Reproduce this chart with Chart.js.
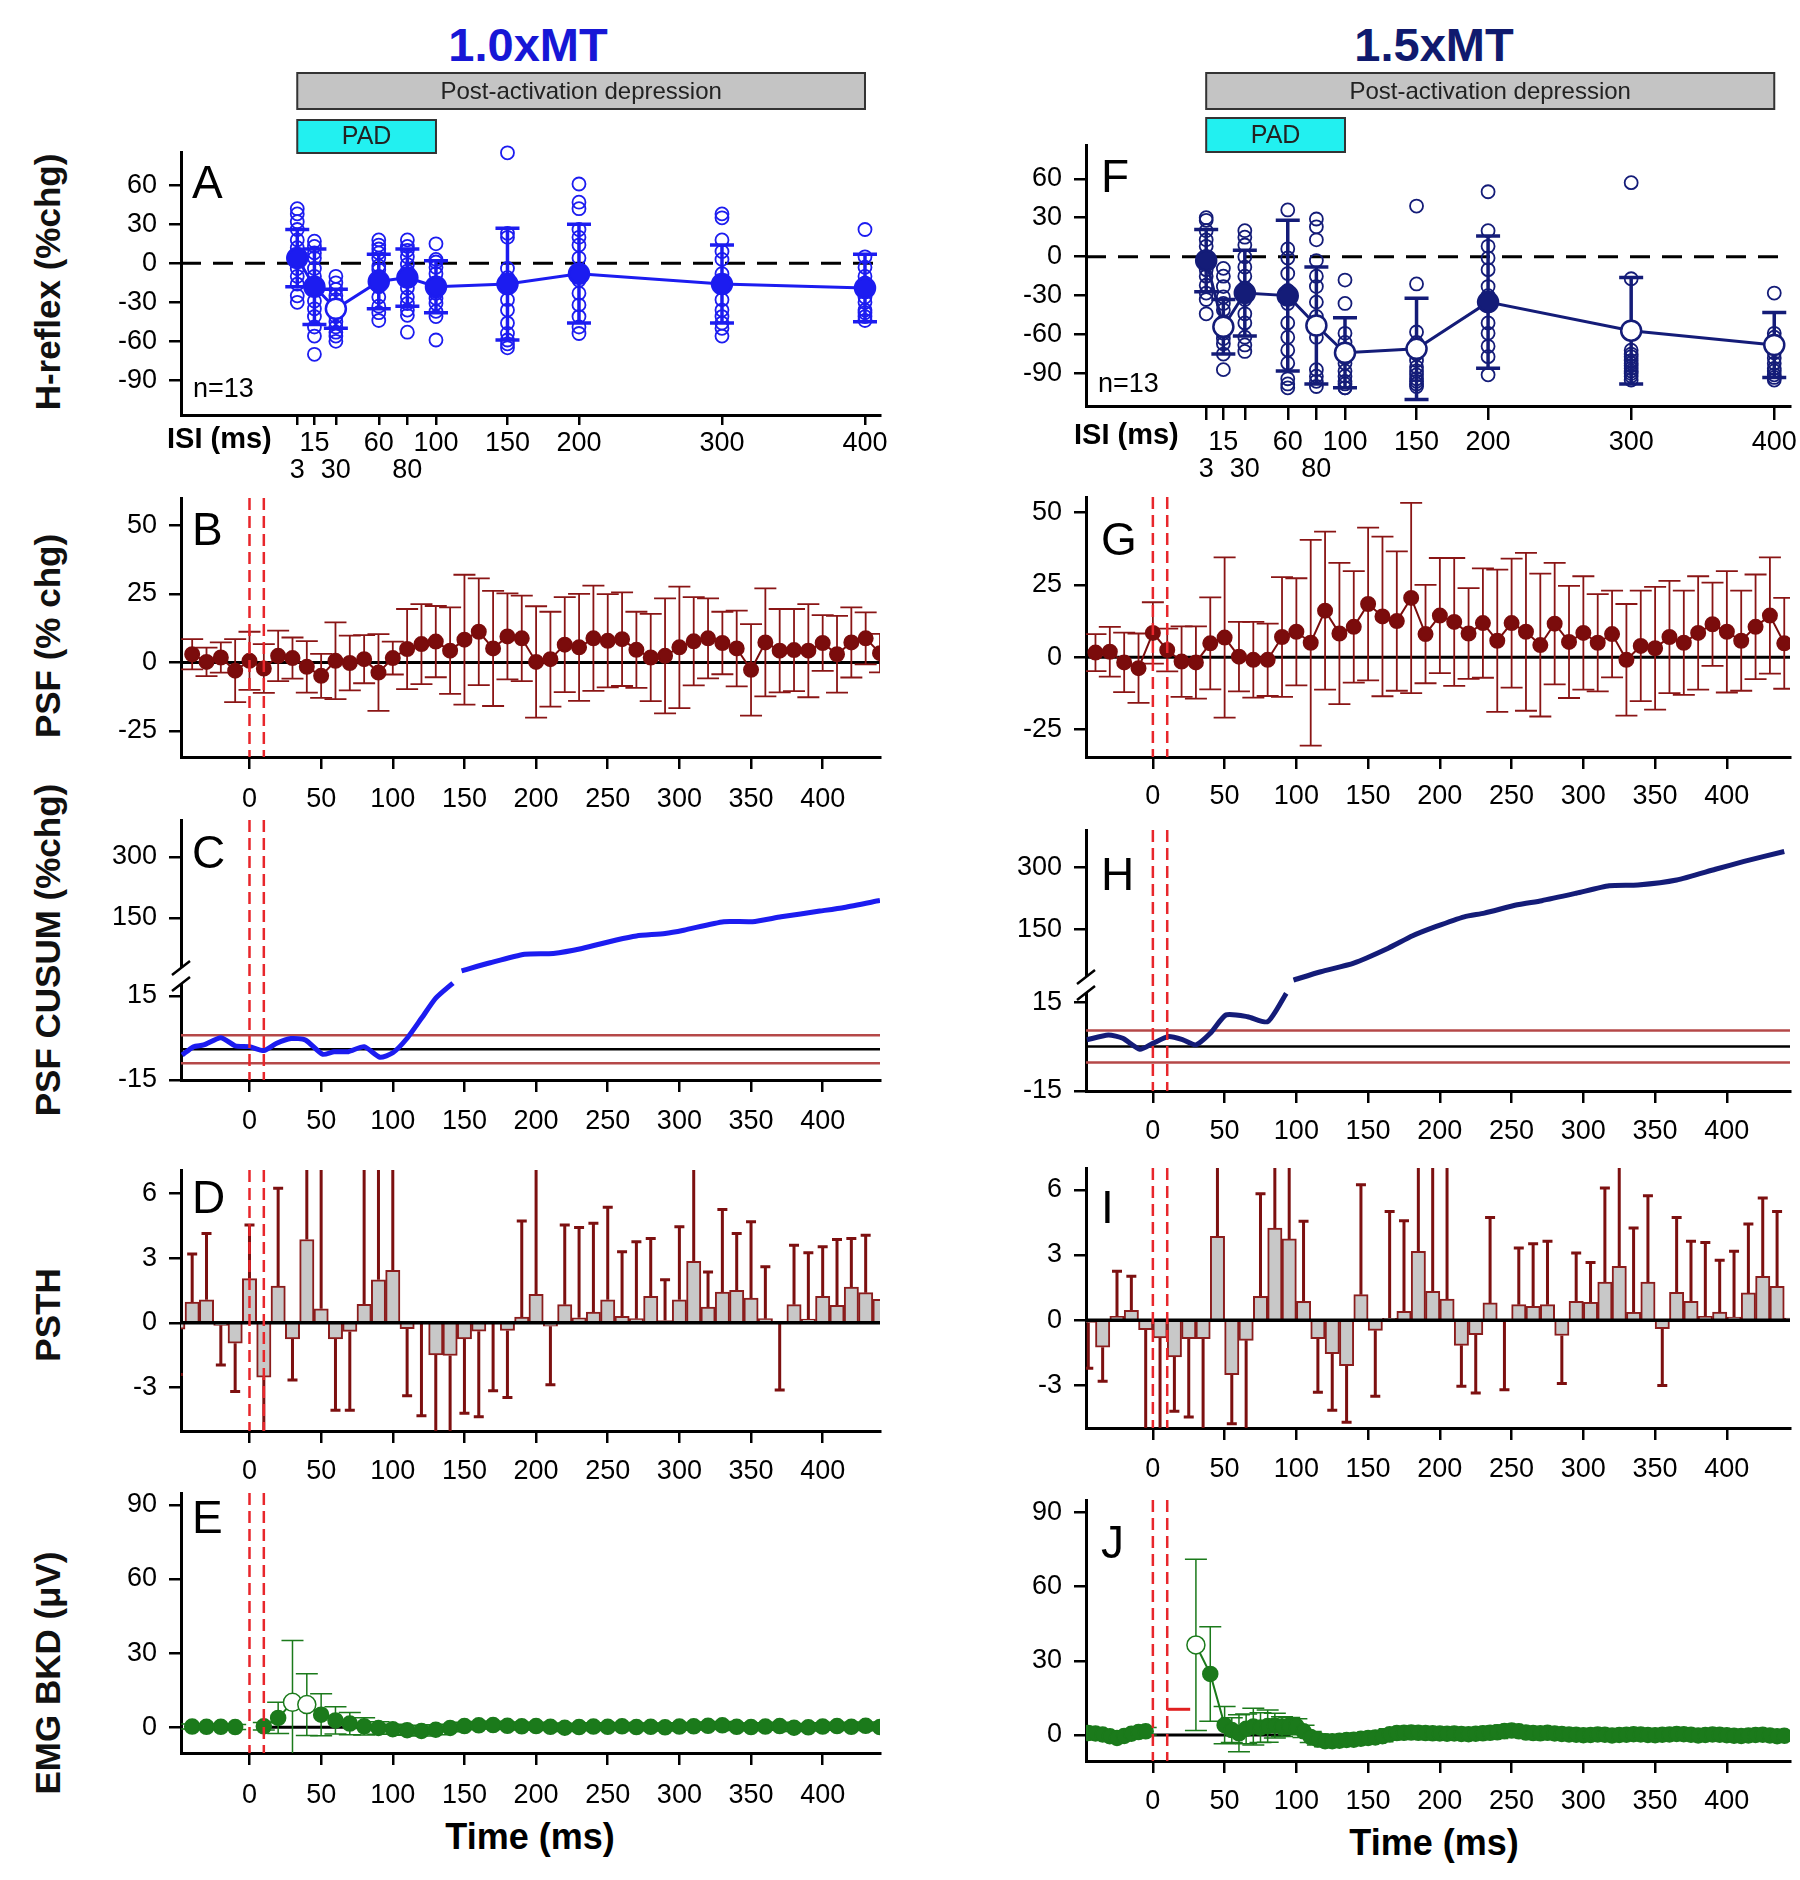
<!DOCTYPE html>
<html>
<head>
<meta charset="utf-8">
<title>H-reflex, PSF, CUSUM, PSTH and EMG</title>
<script src="https://cdn.jsdelivr.net/npm/chart.js@4.4.1/dist/chart.umd.min.js"></script>
<style>
  body { margin: 0; width: 1800px; height: 1880px; background: #fff; position: relative; overflow: hidden;
         font-family: "Liberation Sans", Arial, sans-serif; }
  canvas { position: absolute; }
  .label { position: absolute; white-space: nowrap; transform: translate(-50%, -50%); font-weight: bold; }
  .ytitle { position: absolute; white-space: nowrap; transform: translate(-50%, -50%) rotate(-90deg);
            font-weight: bold; font-size: 35px; color: #111; }
</style>
</head>
<body>
<div class="label" style="left:528px;top:44px;font-size:47px;color:#1717d6">1.0xMT</div>
<div class="label" style="left:1434px;top:44px;font-size:47px;color:#101a6e">1.5xMT</div>
<div class="ytitle" style="left:48px;top:282px">H-reflex (%chg)</div>
<div class="ytitle" style="left:48px;top:636px">PSF (% chg)</div>
<div class="ytitle" style="left:48px;top:950px">PSF CUSUM (%chg)</div>
<div class="ytitle" style="left:48px;top:1315px">PSTH</div>
<div class="ytitle" style="left:48px;top:1673px">EMG BKD (μV)</div>
<div class="label" style="left:530px;top:1837px;font-size:36px">Time (ms)</div>
<div class="label" style="left:1434px;top:1843px;font-size:36px">Time (ms)</div>

<script>
// ---------- H-reflex (A = 1.0xMT, F = 1.5xMT) ----------
const isiMs = [3, 15, 30, 60, 80, 100, 150, 200, 300, 400];
const isiLowerRow = [3, 30, 80];          // these tick labels sit on the second line
const padRange = [3, 100];                 // PAD bar
const depressionRange = [3, 400];          // post-activation depression bar

const hMeanA = [4, -18, -35, -14, -11, -18, -16, -8, -16, -19];
const hErrA = [22, 29, 15, 21, 22, 20, 43, 38, 30, 26];
const hOpenA = [false, false, true, false, false, false, false, false, false, false];
const hIndivA = [
  [42, 38, 32, 26, 18, 12, 6, 2, -4, -10, -16, -25, -30],
  [17, 13, 8, 4, -4, -10, -20, -29, -35, -41, -49, -56, -70],
  [-10, -15, -20, -25, -28, -33, -38, -41, -45, -49, -53, -56, -60],
  [18, 14, 11, 8, 4, -2, -5, -10, -18, -26, -33, -38, -44],
  [18, 13, 10, 5, -1, -6, -10, -19, -26, -31, -36, -40, -53],
  [15, 3, 1, -3, -8, -15, -19, -23, -27, -31, -37, -41, -59],
  [85, 23, 20, -4, -11, -19, -28, -36, -46, -54, -59, -62, -65],
  [61, 47, 42, 26, 20, 14, 4, -13, -23, -32, -41, -49, -54],
  [38, 35, 18, 9, 3, -8, -18, -28, -36, -41, -46, -50, -56],
  [26, 5, -3, -10, -15, -18, -22, -26, -30, -36, -38, -41, -44]
];

const hMeanF = [-3, -54, -28, -30, -53, -74, -71, -35, -57, -68];
const hErrF = [24, 21, 33, 58, 45, 27, 39, 51, 41, 25];
const hOpenF = [false, true, false, false, true, true, true, false, true, true];
const hIndivF = [
  [30, 28, 20, 13, 8, 0, -5, -10, -15, -22, -28, -33, -44],
  [-9, -15, -23, -31, -36, -41, -50, -54, -59, -63, -67, -75, -87],
  [20, 15, 9, 0, -8, -15, -24, -33, -44, -51, -62, -68, -73],
  [36, 6, -1, -13, -26, -36, -51, -62, -72, -82, -94, -98, -101],
  [29, 23, 13, -3, -15, -23, -35, -46, -62, -87, -92, -96, -100],
  [-18, -36, -59, -66, -72, -78, -82, -88, -92, -96, -98, -101, -101],
  [39, -21, -58, -66, -75, -80, -85, -88, -91, -94, -96, -98, -100],
  [50, 20, 8, -1, -10, -23, -30, -38, -51, -59, -69, -77, -91],
  [57, -17, -72, -75, -77, -80, -82, -84, -86, -88, -90, -92, -95],
  [-28, -59, -62, -65, -70, -74, -78, -82, -86, -88, -91, -93, -95]
];

// ---------- time axes ----------
const timeTicks = [0, 50, 100, 150, 200, 250, 300, 350, 400];
const stimMarks = [0, 10];   // red dashed lines

// ---------- PSF (B, G) ----------
const psfTime = [-40, -30, -20, -10, 0, 10, 20, 30, 40, 50, 60, 70, 80, 90, 100, 110, 120, 130, 140, 150,
  160, 170, 180, 190, 200, 210, 220, 230, 240, 250, 260, 270, 280, 290, 300, 310, 320, 330, 340, 350,
  360, 370, 380, 390, 400, 410, 420, 430, 440];
const psfMeanB = [3.0, 0.2, 1.8, -3.0, 0.6, -2.2, 2.4, 1.6, -1.6, -4.9,
  0.6, -0.2, 1.2, -3.7, 1.6, 4.9, 6.7, 7.6, 4.3, 8.3,
  11.2, 5.1, 9.5, 8.8, 0.2, 1.2, 6.5, 5.5, 8.8, 7.9,
  8.5, 4.6, 1.8, 2.4, 5.5, 7.7, 8.8, 7.1, 5.1, -2.7,
  7.3, 4.3, 4.5, 4.3, 7.1, 3.0, 7.3, 8.8, 3.4];
const psfErrB = [5.5, 5.2, 5.5, 11.5, 10.6, 8.9, 9.2, 7.5, 9.4, 8,
  14, 10, 8.8, 14, 6, 14.6, 14.6, 13, 15.8, 23.7,
  19.5, 21, 15.7, 15.6, 20.3, 17.3, 17.3, 19.5, 19.2, 17,
  17.1, 13.9, 15.9, 21, 22.2, 16.1, 14.6, 11.4, 13.8, 16.7,
  19.7, 15.2, 15, 17, 10.2, 14, 12.8, 9.5, 7];
const psfMeanG = [1.6, 1.9, -1.8, -3.8, 8.4, 2.5, -1.5, -1.8, 4.8, 6.8,
  0.2, -0.9, -0.9, 7.0, 8.8, 5.0, 16.1, 8.2, 10.5, 18.4,
  14.1, 12.5, 20.5, 8.0, 14.4, 12.2, 8.2, 11.8, 5.7, 11.8,
  8.8, 4.2, 11.6, 5.3, 8.4, 5.0, 8.0, -0.9, 3.9, 3.1,
  7.0, 5.0, 8.4, 11.4, 8.8, 5.7, 10.5, 14.4, 4.8];
const psfErrG = [6.4, 8.6, 10.3, 12, 10.6, 7.4, 12.2, 12.5, 15.9, 27.7,
  12, 13.1, 12.5, 20.7, 18.5, 35.6, 27.3, 24.4, 19.3, 26.4,
  27.6, 24.1, 32.9, 17, 19.9, 22.1, 15.7, 18.9, 24.6, 22.3,
  27.3, 24.7, 21, 19.4, 19.6, 16.8, 15, 19.3, 19.1, 21.2,
  19.4, 18, 19.6, 14.4, 21, 17.3, 18.1, 20.1, 15.7];

// ---------- PSF CUSUM (C, H), lower and upper (broken) parts ----------
const cusumLoTimeC = [-47, -39, -32, -20, -10, 0, 10, 19, 29, 39, 51, 59, 69, 80, 91, 100, 110, 120, 130, 142];
const cusumLoC = [-6.1, -3.1, -2.5, 0.1, -2.8, -3.1, -4.5, -1.9, -0.2, -0.7, -5.8, -4.9, -4.9, -3.1, -6.9, -5.3, -0.1, 7.0, 14.2, 19.6];
const cusumHiTimeC = [148, 168, 192, 212, 232, 256, 270, 290, 303, 331, 351, 371, 398, 415, 440];
const cusumHiC = [20, 40, 61, 63, 75, 96, 106, 112, 120, 141, 141, 153, 167, 176, 193];
const cusumLimitsC = [1, -9];
const cusumBaseC = -4;

const cusumLoTimeH = [-46, -31, -21, -9, 0, 11, 21, 30, 40, 51, 66, 80, 93];
const cusumLoH = [2.3, 3.9, 2.8, -0.9, 1.1, 3.4, 2.3, 0.6, 4.5, 10.7, 10.1, 8.4, 18];
const cusumHiTimeH = [98, 117, 140, 164, 181, 197, 217, 231, 254, 271, 295, 318, 338, 365, 392, 412, 440];
const cusumHiH = [27, 47, 68, 104, 134, 156, 180, 189, 209, 219, 237, 255, 257, 269, 295, 314, 338];
const cusumLimitsH = [5.4, -5.4];
const cusumBaseH = 0;

// ---------- PSTH (D, I): bin centre, bar height, end of error bar ----------
const psthBinD = [-50, -40, -30, -20, -10, 0, 10, 20, 30, 40, 50, 60, 70, 80, 90, 100, 110, 120, 130, 140,
  150, 160, 170, 180, 190, 200, 210, 220, 230, 240, 250, 260, 270, 280, 290, 300, 310, 320, 330, 340,
  350, 360, 370, 380, 390, 400, 410, 420, 430, 440];
const psthMeanD = [-0.3, 0.96, 1.07, -0.12, -0.95, 2.05, -2.53, 1.7, -0.75, 3.87,
  0.65, -0.75, -0.4, 0.86, 2.0, 2.44, -0.28, -0.05, -1.49, -1.52,
  -0.75, -0.39, -0.05, -0.36, 0.26, 1.32, -0.16, 0.84, 0.23, 0.5,
  1.07, 0.3, 0.19, 1.23, 0.1, 1.07, 2.86, 0.73, 1.43, 1.51,
  1.15, 0.19, 0.0, 0.84, 0.17, 1.23, 0.81, 1.66, 1.4, 1.09];
const psthErrEndD = [-2.4, 3.2, 4.15, -1.96, -3.19, 4.54, -5.5, 6.25, -2.66, 8,
  8, -4.06, -4.06, 8, 8, 8, -3.39, -4.32, -5.5, -5.5,
  -4.21, -4.37, -3.16, -3.47, 4.73, 8, -2.88, 4.54, 4.43, 4.62,
  5.37, 3.3, 3.76, 3.92, 2.0, 4.46, 8, 2.36, 5.27, 4.15,
  4.7, 2.6, -3.13, 3.6, 3.25, 3.53, 3.87, 3.92, 4.07, null];

const psthBinI = [-45, -35, -25, -15, -5, 5, 15, 25, 35, 45, 55, 65, 75, 85, 95, 105, 115, 125, 135, 145,
  155, 165, 175, 185, 195, 205, 215, 225, 235, 245, 255, 265, 275, 285, 295, 305, 315, 325, 335, 345,
  355, 365, 375, 385, 395, 405, 415, 425, 435, 445];
const psthMeanI = [-0.1, -1.24, 0.18, 0.46, -0.43, -0.81, -1.68, -0.84, -0.84, 3.86,
  -2.5, -0.92, 1.1, 4.24, 3.74, 0.87, -0.84, -1.53, -2.08, 1.18,
  -0.46, 0.09, 0.41, 3.17, 1.33, 0.98, -1.15, -0.66, 0.8, -0.05,
  0.72, 0.64, 0.72, -0.7, 0.87, 0.83, 1.76, 2.48, 0.37, 1.76,
  -0.38, 1.29, 0.87, 0.18, 0.38, 0.15, 1.26, 2.02, 1.56, 0.1];
const psthErrEndI = [-2.2, -2.8, 2.25, 2.02, -5.5, -5.5, -4.18, -4.44, -5.5, 8,
  -4.75, -5.5, 5.82, 8, 8, 4.55, -3.31, -4.13, -4.69, 6.23,
  -3.49, 5.0, 4.58, 8, 8, 8, -3.03, -3.34, 4.73, -3.19,
  3.32, 3.52, 3.63, -2.91, 3.09, 2.66, 6.08, 8, 4.24, 5.73,
  -3.0, 4.73, 3.63, 3.58, 2.76, 3.17, 4.43, 5.62, 5.0, null];

// ---------- background EMG (E, J) ----------
const emgTimeE = [-40, -30, -20, -10, 10, 20, 30, 40, 50, 60, 70, 80, 90, 100, 110, 120, 130, 140, 150, 160,
  170, 180, 190, 200, 210, 220, 230, 240, 250, 260, 270, 280, 290, 300, 310, 320, 330, 340, 350, 360,
  370, 380, 390, 400, 410, 420, 430, 440];
const emgMeanE = [0.3, 0.2, 0.2, 0.1, 0.4, 3.8, 10.1, 9.2, 5.1, 2.8, 1.5, 0.4, -0.3, -0.8, -1.2, -1.5, -1.0, -0.3, 0.5, 0.8,
  0.9, 0.6, 0.4, 0.5, 0.2, -0.2, 0.1, 0.3, 0.2, 0.4, 0.1, 0.2, 0.0, 0.3, 0.4, 0.6, 0.8, 0.2, 0.1, 0.3,
  0.5, -0.2, 0.0, 0.3, 0.5, 0.2, 0.6, 0.1];
const emgErrE = [1, 1, 1, 1, 1.5, 6.3, 25, 12.5, 8.5, 5.5, 4.5, 3.5, 2.5, 2, 2, 2, 2, 1.5, 1.5, 1.5,
  1.5, 1.5, 1.5, 1.5, 1.5, 1.5, 1.5, 1.5, 1.5, 1.5, 1.5, 1.5, 1.5, 1.5, 1.5, 1.5, 1.5, 1.5, 1.5, 1.5,
  1.5, 1.5, 1.5, 1.5, 1.5, 1.5, 1.5, 1.5];
const emgOpenE = [30, 40];

const emgTimeJ = [-45, -40, -35, -30, -25, -20, -15, -10, -5, 30, 40,
  50, 55, 60, 65, 70, 75, 80, 85, 90, 95, 100, 105,
  110, 115, 120, 125, 130, 135, 140, 145, 150, 155, 160, 165,
  170, 175, 180, 185, 190, 195, 200, 205, 210, 215, 220, 225,
  230, 235, 240, 245, 250, 255, 260, 265, 270, 275, 280, 285,
  290, 295, 300, 305, 310, 315, 320, 325, 330, 335, 340, 345,
  350, 355, 360, 365, 370, 375, 380, 385, 390, 395, 400, 405,
  410, 415, 420, 425, 430, 435, 440];
const emgMeanJ = [0.8, 0.6, 0.2, -0.5, -1.2, -0.4, 0.5, 1.2, 1.5, 36.4, 24.7,
  4.0, 2.0, 0.7, 2.5, 3.4, 3.0, 3.6, 3.8, 3.4, 3.6, 3.6, 1.5,
  -0.8, -1.8, -2.5, -2.5, -2.3, -2.0, -1.9, -1.5, -1.2, -1.0, -0.5, 0.3,
  0.8, 0.9, 1.0, 0.9, 0.8, 0.7, 0.6, 0.5, 0.6, 0.4, 0.3, 0.5,
  0.7, 0.9, 1.1, 1.6, 1.8, 1.5, 1.0, 0.8, 0.7, 0.9, 0.6, 0.4,
  0.2, 0.1, -0.1, 0.0, 0.2, 0.1, -0.2, 0.0, 0.1, 0.3, 0.2, 0.0,
  -0.1, 0.1, 0.2, 0.4, 0.3, 0.1, -0.2, 0.0, 0.2, 0.1, -0.1, -0.3,
  -0.4, -0.2, 0.0, 0.1, -0.2, -0.5, -0.3];
const emgErrJ = [1.5, 1.5, 1.5, 1.5, 1.5, 1.5, 1.5, 1.5, 1.5, 34.6, 19.1,
  7.5, 5, 7.5, 6, 7.4, 6, 6.5, 5, 4, 3.5, 3, 2.5,
  2.2, 2.2, 2.2, 2.2, 2.2, 2.2, 2.2, 2.2, 2.2, 2.2, 2.2, 2.2,
  1.5, 1.5, 1.5, 1.5, 1.5, 1.5, 1.5, 1.5, 1.5, 1.5, 1.5, 1.5,
  2, 2.5, 2.5, 2.5, 2.5, 2, 1.5, 1.5, 1.5, 1.5, 1.5, 1.5,
  1.5, 1.5, 1.5, 1.5, 1.5, 1.5, 1.5, 1.5, 1.5, 1.5, 1.5, 1.5,
  1.5, 1.5, 1.5, 1.5, 1.5, 1.5, 1.5, 1.5, 1.5, 1.5, 1.5, 1.5,
  1.5, 1.5, 1.5, 1.5, 1.5, 1.5, 1.5];
const emgOpenJ = [30];
const emgThresholdJ = { y: 10.4, from: 10, to: 26 };   // small red marker in J

// ---------- colours ----------
const BLUE = '#1c1cf0';
const NAVY = '#141c78';
const DARKRED = '#7b0c0c';
const ERRRED = '#8a1515';
const GREEN = '#1b7a1b';
const DASHRED = '#e8262b';
const FONT = '"Liberation Sans", Arial, sans-serif';

Chart.defaults.font.family = FONT;

// ---------- small plugins ----------
const errorBars = {
  id: 'errorBars',
  beforeDatasetDraw(chart, args) {
    const ds = chart.data.datasets[args.index];
    const eb = ds.errorBars;
    if (!eb) return;
    const xs = chart.scales.x, ys = chart.scales[ds.yAxisID || 'y'];
    const ctx = chart.ctx, a = chart.chartArea;
    ctx.save();
    ctx.beginPath();
    ctx.rect(a.left, a.top, a.right - a.left, a.bottom - a.top);
    ctx.clip();
    ctx.strokeStyle = eb.color;
    ctx.lineWidth = eb.width;
    eb.x.forEach((xv, i) => {
      if (eb.from[i] == null || eb.to[i] == null) return;
      const x = xs.getPixelForValue(xv);
      const y1 = ys.getPixelForValue(eb.from[i]);
      const y2 = ys.getPixelForValue(eb.to[i]);
      ctx.beginPath();
      ctx.moveTo(x, y1);
      ctx.lineTo(x, y2);
      if (eb.capFrom) { ctx.moveTo(x - eb.cap, y1); ctx.lineTo(x + eb.cap, y1); }
      if (eb.capTo) { ctx.moveTo(x - eb.cap, y2); ctx.lineTo(x + eb.cap, y2); }
      ctx.stroke();
    });
    ctx.restore();
  }
};

function drawGuides(chart, list) {
  if (!list) return;
  const ctx = chart.ctx, a = chart.chartArea, xs = chart.scales.x;
  list.forEach(g => {
    ctx.save();
    ctx.strokeStyle = g.color;
    ctx.lineWidth = g.width;
    ctx.setLineDash(g.dash || []);
    ctx.beginPath();
    if (g.x !== undefined) {
      const px = xs.getPixelForValue(g.x);
      ctx.moveTo(px, a.top);
      ctx.lineTo(px, a.bottom);
    } else {
      const py = chart.scales[g.axis || 'y'].getPixelForValue(g.y);
      const x0 = g.from !== undefined ? xs.getPixelForValue(g.from) : a.left;
      const x1 = g.to !== undefined ? xs.getPixelForValue(g.to) : a.right;
      ctx.moveTo(x0, py);
      ctx.lineTo(x1, py);
    }
    ctx.stroke();
    ctx.restore();
  });
}

const guides = {
  id: 'guides',
  beforeDatasetsDraw(chart, args, opts) { drawGuides(chart, opts.under); },
  afterDatasetsDraw(chart, args, opts) { drawGuides(chart, opts.over); }
};

const notes = {
  id: 'notes',
  afterDraw(chart, args, opts) {
    if (!opts.items) return;
    const ctx = chart.ctx, a = chart.chartArea;
    opts.items.forEach(t => {
      ctx.save();
      ctx.font = t.font;
      ctx.fillStyle = t.color || '#000';
      ctx.textAlign = 'left';
      ctx.textBaseline = 'alphabetic';
      ctx.fillText(t.text, a.left + t.dx, a.top + t.dy);
      ctx.restore();
    });
  }
};

// grey / cyan period bars above the H-reflex panels, placed on the ISI axis
const topBars = {
  id: 'topBars',
  afterDraw(chart, args, opts) {
    if (!opts.items) return;
    const ctx = chart.ctx, xs = chart.scales.x, top = chart.chartArea.top;
    opts.items.forEach(b => {
      const x0 = xs.getPixelForValue(b.range[0]), x1 = xs.getPixelForValue(b.range[1]);
      const y0 = top + b.dy0, y1 = top + b.dy1;
      ctx.save();
      ctx.fillStyle = b.fill;
      ctx.fillRect(x0, y0, x1 - x0, y1 - y0);
      ctx.strokeStyle = '#333';
      ctx.lineWidth = 2;
      ctx.strokeRect(x0, y0, x1 - x0, y1 - y0);
      ctx.fillStyle = '#222';
      ctx.font = b.font;
      ctx.textAlign = 'center';
      ctx.textBaseline = 'middle';
      ctx.fillText(b.text, (x0 + x1) / 2, (y0 + y1) / 2 + 1);
      ctx.restore();
    });
  }
};

// "//" break on the CUSUM y axis, between the two stacked scales
const axisBreak = {
  id: 'axisBreak',
  afterDraw(chart, args, opts) {
    if (!opts.scale) return;
    const ctx = chart.ctx, x = chart.chartArea.left, y = chart.scales[opts.scale].top;
    ctx.save();
    ctx.fillStyle = '#fff';
    ctx.fillRect(x - 4, y - 8, 8, 16);
    ctx.strokeStyle = '#000';
    ctx.lineWidth = 2.5;
    ctx.beginPath();
    [y - 8, y + 8].forEach(yy => { ctx.moveTo(x - 9, yy + 7); ctx.lineTo(x + 9, yy - 7); });
    ctx.stroke();
    ctx.restore();
  }
};

Chart.register(errorBars, guides, notes, topBars, axisBreak);

// ---------- layout helpers ----------
const YW = 100;     // width of every y-axis box
const PAD_R = 30, PAD_B = 10;

function addCanvas(g) {
  const c = document.createElement('canvas');
  const left = g.left - YW, top = g.top - g.padTop;
  c.width = g.right + PAD_R - left;
  c.height = g.bottom + g.xh + PAD_B - top;
  c.style.left = left + 'px';
  c.style.top = top + 'px';
  document.body.appendChild(c);
  return c;
}

function xAxis(g, min, max, ticks, tickExtra) {
  return {
    type: 'linear', min, max, offset: false,
    afterBuildTicks: ax => { ax.ticks = ticks.map(v => ({ value: v })); },
    afterFit: ax => { ax.height = g.xh; },
    border: { display: true, color: '#000', width: 3 },
    grid: { drawOnChartArea: false, tickLength: g.xTick || 12, color: '#000', lineWidth: 2.5, offset: false },
    ticks: Object.assign({ color: '#000', font: { size: 27 }, padding: g.xPad, maxRotation: 0, autoSkip: false }, tickExtra)
  };
}

function yAxis(min, max, ticks, extra) {
  return Object.assign({
    type: 'linear', position: 'left', min, max,
    afterBuildTicks: ax => { ax.ticks = ticks.map(v => ({ value: v })); },
    afterFit: ax => { ax.width = YW; },
    border: { display: true, color: '#000', width: 3 },
    grid: { drawOnChartArea: false, tickLength: 12, color: '#000', lineWidth: 2.5 },
    ticks: { color: '#000', font: { size: 27 }, padding: 12 }
  }, extra);
}

function build(g, type, datasets, scales, plugins) {
  return new Chart(addCanvas(g), {
    type,
    data: { datasets },
    options: {
      responsive: false, animation: false, devicePixelRatio: 1,
      layout: { padding: { left: 0, top: g.padTop, right: PAD_R, bottom: PAD_B } },
      scales,
      plugins: Object.assign({ legend: { display: false }, tooltip: { enabled: false } }, plugins)
    }
  });
}

const letter = (ch, dx, dy) => ({ text: ch, dx, dy, font: '46px ' + FONT });
const pts = (xs, ys) => xs.map((x, i) => ({ x, y: ys[i] }));
const symErr = (x, mean, err, style) => Object.assign({
  x, from: mean.map((m, i) => m - err[i]), to: mean.map((m, i) => m + err[i]), capFrom: true, capTo: true
}, style);
const stimLines = stimMarks.map(x => ({ x, color: DASHRED, width: 2.5, dash: [12, 6] }));
// no connecting line across the stimulus gap in the EMG traces
const skipGaps = { borderColor: c => (c.p1.parsed.x - c.p0.parsed.x > 15 ? 'rgba(0,0,0,0)' : undefined) };

// panel chart areas, in page pixels
const gA = { left: 181, right: 880, top: 152, bottom: 415, padTop: 100, xh: 80, xTick: 10, xPad: 5 };
const gB = { left: 181, right: 880, top: 498, bottom: 757, padTop: 40, xh: 70, xPad: 14 };
const gC = { left: 181, right: 880, top: 820, bottom: 1080, padTop: 40, xh: 70, xPad: 13 };
const gD = { left: 181, right: 880, top: 1170, bottom: 1431, padTop: 40, xh: 70, xPad: 12 };
const gE = { left: 181, right: 880, top: 1493, bottom: 1753, padTop: 40, xh: 70, xPad: 14 };
const gF = { left: 1086, right: 1790, top: 145, bottom: 406, padTop: 100, xh: 85, xTick: 14, xPad: 9 };
const gG = { left: 1086, right: 1790, top: 497, bottom: 757, padTop: 40, xh: 70, xPad: 11 };
const gH = { left: 1086, right: 1790, top: 830, bottom: 1091, padTop: 40, xh: 70, xPad: 12 };
const gI = { left: 1086, right: 1790, top: 1168, bottom: 1428, padTop: 40, xh: 70, xPad: 13 };
const gJ = { left: 1086, right: 1790, top: 1500, bottom: 1761, padTop: 40, xh: 70, xPad: 12 };

// ---------- H-reflex panels ----------
function hReflexPanel(g, name, color, mean, err, open, indiv, xmin, xmax, dxL, bars) {
  build(g, 'scatter', [
    {
      type: 'line', data: pts(isiMs, mean), borderColor: color, borderWidth: 3,
      pointRadius: 10, pointBorderWidth: 2.5, pointBorderColor: color,
      pointBackgroundColor: open.map(o => o ? '#fff' : color),
      errorBars: symErr(isiMs, mean, err, { cap: 12, width: 3.5, color })
    },
    {
      data: indiv.flatMap((vals, i) => vals.map(y => ({ x: isiMs[i], y }))), clip: 12,
      pointRadius: 6.5, pointBorderWidth: 1.8, borderColor: color, backgroundColor: 'rgba(0,0,0,0)'
    }
  ], {
    x: xAxis(g, xmin, xmax, isiMs, {
      callback: v => isiLowerRow.includes(v) ? ['', String(v)] : String(v),
      font: { size: 27, lineHeight: 1 }
    }),
    y: yAxis(g === gA ? -116.7 : -115, g === gA ? 85.6 : 86, [-90, -60, -30, 0, 30, 60])
  }, {
    guides: { under: [{ y: 0, color: '#000', width: 3, dash: [20, 12] }] },
    notes: { items: [
      letter(name, dxL, g === gA ? 46 : 47),
      { text: 'n=13', dx: 12, dy: g === gA ? 245 : 247, font: '27px ' + FONT },
      { text: 'ISI (ms)', dx: g === gA ? -14 : -12, dy: g === gA ? 296 : 299, font: 'bold 29px ' + FONT }
    ] },
    topBars: { items: bars }
  });
}

hReflexPanel(gA, 'A', BLUE, hMeanA, hErrA, hOpenA, hIndivA, -78.3, 410.5, 11, [
  { range: depressionRange, dy0: -79, dy1: -43, fill: '#c4c4c4', text: 'Post-activation depression', font: '24px ' + FONT },
  { range: padRange, dy0: -32, dy1: 1, fill: '#22f0f0', text: 'PAD', font: '25px ' + FONT }
]);
hReflexPanel(gF, 'F', NAVY, hMeanF, hErrF, hOpenF, hIndivF, -81, 411, 15, [
  { range: depressionRange, dy0: -72, dy1: -36, fill: '#c4c4c4', text: 'Post-activation depression', font: '24px ' + FONT },
  { range: padRange, dy0: -27, dy1: 7, fill: '#22f0f0', text: 'PAD', font: '25px ' + FONT }
]);

// ---------- PSF panels ----------
function psfPanel(g, name, mean, err, xr, yr, dxL, dyL) {
  build(g, 'scatter', [{
    type: 'line', data: pts(psfTime, mean), borderColor: DARKRED, borderWidth: 2,
    pointRadius: 7, pointBackgroundColor: DARKRED, pointBorderColor: DARKRED,
    errorBars: symErr(psfTime, mean, err, { cap: 11, width: 1.8, color: ERRRED })
  }], {
    x: xAxis(g, xr[0], xr[1], timeTicks),
    y: yAxis(yr[0], yr[1], [-25, 0, 25, 50])
  }, {
    guides: { under: [{ y: 0, color: '#000', width: 3 }], over: stimLines },
    notes: { items: [letter(name, dxL, dyL)] }
  });
}
psfPanel(gB, 'B', psfMeanB, psfErrB, [-47.8, 440], [-34.5, 60], 11, 47);
psfPanel(gG, 'G', psfMeanG, psfErrG, [-46.6, 444], [-34.5, 55.4], 15, 58);

// ---------- CUSUM panels (stacked scales make the broken axis) ----------
function cusumPanel(g, name, color, loT, lo, hiT, hi, limits, base, xr, loR, hiR, weights, dxL, dyL) {
  build(g, 'scatter', [
    { type: 'line', yAxisID: 'yLo', data: pts(loT, lo), borderColor: color, borderWidth: 5, pointRadius: 0, tension: 0.2 },
    { type: 'line', yAxisID: 'yHi', data: pts(hiT, hi), borderColor: color, borderWidth: 5, pointRadius: 0, tension: 0.2 }
  ], {
    x: xAxis(g, xr[0], xr[1], timeTicks),
    yLo: yAxis(loR[0], loR[1], [-15, 0, 15], { stack: 'cusum', stackWeight: weights[0] }),
    yHi: yAxis(hiR[0], hiR[1], [150, 300], { stack: 'cusum', stackWeight: weights[1] })
  }, {
    guides: {
      under: [
        { y: limits[0], axis: 'yLo', color: '#b54848', width: 2.5 },
        { y: base, axis: 'yLo', color: '#000', width: 2.5 },
        { y: limits[1], axis: 'yLo', color: '#b54848', width: 2.5 }
      ],
      over: stimLines
    },
    axisBreak: { scale: 'yLo' },
    notes: { items: [letter(name, dxL, dyL)] }
  });
}
cusumPanel(gC, 'C', BLUE, cusumLoTimeC, cusumLoC, cusumHiTimeC, cusumHiC, cusumLimitsC, cusumBaseC,
  [-47.8, 440], [-15, 22.1], [7.4, 391], [104, 156], 11, 48);
cusumPanel(gH, 'H', NAVY, cusumLoTimeH, cusumLoH, cusumHiTimeH, cusumHiH, cusumLimitsH, cusumBaseH,
  [-46.6, 444], [-15, 20.8], [15, 390], [106, 155], 15, 60);

// ---------- PSTH panels ----------
function psthPanel(g, name, bins, mean, errEnd, xr, yr, dxL, dyL) {
  build(g, 'bar', [{
    data: pts(bins, mean), backgroundColor: '#c8c8c8', borderColor: '#8b1c1c', borderWidth: 2,
    barPercentage: 1, categoryPercentage: 1,
    errorBars: { x: bins, from: mean, to: errEnd, capFrom: false, capTo: true, cap: 5, width: 3, color: '#7d1010' }
  }], {
    x: xAxis(g, xr[0], xr[1], timeTicks),
    y: yAxis(yr[0], yr[1], [-3, 0, 3, 6])
  }, {
    guides: { over: [{ y: 0, color: '#000', width: 3.5 }].concat(stimLines) },
    notes: { items: [letter(name, dxL, dyL)] }
  });
}
psthPanel(gD, 'D', psthBinD, psthMeanD, psthErrEndD, [-47.8, 440], [-5.03, 7.1], 11, 43);
psthPanel(gI, 'I', psthBinI, psthMeanI, psthErrEndI, [-46.6, 444], [-4.95, 7.0], 15, 55);

// ---------- EMG panels ----------
function emgPanel(g, name, t, mean, err, openT, xr, yr, extraLines, dxL, dyL) {
  build(g, 'scatter', [{
    type: 'line', data: pts(t, mean), borderColor: GREEN, borderWidth: 2, segment: skipGaps,
    pointRadius: t.map(v => openT.includes(v) ? 9 : 7.5),
    pointBackgroundColor: t.map(v => openT.includes(v) ? '#fff' : GREEN),
    pointBorderColor: GREEN, pointBorderWidth: 1.5,
    errorBars: symErr(t, mean, err, { cap: 11, width: 1.5, color: GREEN })
  }], {
    x: xAxis(g, xr[0], xr[1], timeTicks),
    y: yAxis(yr[0], yr[1], [0, 30, 60, 90])
  }, {
    guides: { under: extraLines, over: stimLines },
    notes: { items: [letter(name, dxL, dyL)] }
  });
}
emgPanel(gE, 'E', emgTimeE, emgMeanE, emgErrE, emgOpenE, [-47.8, 440], [-10.4, 94.8],
  [{ y: 0, from: 10, to: 78, color: '#000', width: 3 }], 11, 40);
emgPanel(gJ, 'J', emgTimeJ, emgMeanJ, emgErrJ, emgOpenJ, [-46.6, 444], [-10.5, 95],
  [{ y: 0, from: 0, to: 96, color: '#000', width: 3 },
   { y: emgThresholdJ.y, from: emgThresholdJ.from, to: emgThresholdJ.to, color: '#e02020', width: 3 }], 15, 58);
</script>
</body>
</html>
